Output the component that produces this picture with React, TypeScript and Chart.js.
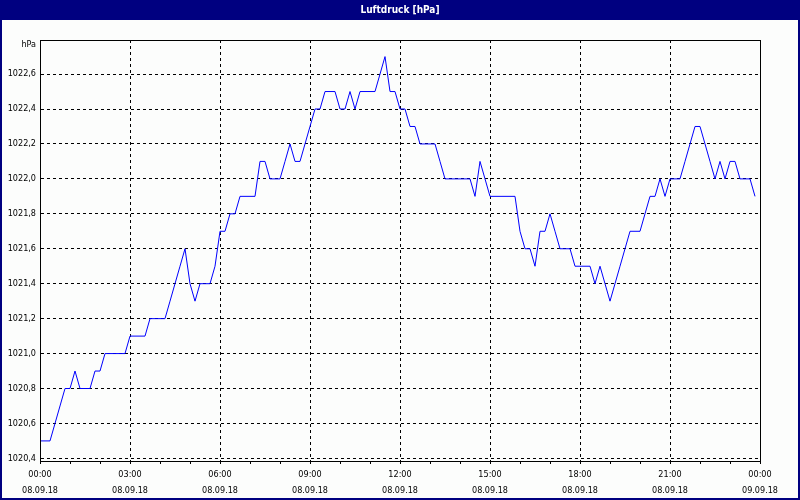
import React, { useEffect, useRef } from "react";
import { Chart, registerables } from "chart.js";

Chart.register(...registerables);

// 10-minute samples from 08.09.18 00:00 to 23:50
const pressure: number[] = [
  1020.5, 1020.5, 1020.5, 1020.6, 1020.7, 1020.8, 1020.8, 1020.9, 1020.8, 1020.8, 1020.8, 1020.9,
  1020.9, 1021.0, 1021.0, 1021.0, 1021.0, 1021.0, 1021.1, 1021.1, 1021.1, 1021.1, 1021.2, 1021.2,
  1021.2, 1021.2, 1021.3, 1021.4, 1021.5, 1021.6, 1021.4, 1021.3, 1021.4, 1021.4, 1021.4, 1021.5,
  1021.7, 1021.7, 1021.8, 1021.8, 1021.9, 1021.9, 1021.9, 1021.9, 1022.1, 1022.1, 1022.0, 1022.0,
  1022.0, 1022.1, 1022.2, 1022.1, 1022.1, 1022.2, 1022.3, 1022.4, 1022.4, 1022.5, 1022.5, 1022.5,
  1022.4, 1022.4, 1022.5, 1022.4, 1022.5, 1022.5, 1022.5, 1022.5, 1022.6, 1022.7, 1022.5, 1022.5,
  1022.4, 1022.4, 1022.3, 1022.3, 1022.2, 1022.2, 1022.2, 1022.2, 1022.1, 1022.0, 1022.0, 1022.0,
  1022.0, 1022.0, 1022.0, 1021.9, 1022.1, 1022.0, 1021.9, 1021.9, 1021.9, 1021.9, 1021.9, 1021.9,
  1021.7, 1021.6, 1021.6, 1021.5, 1021.7, 1021.7, 1021.8, 1021.7, 1021.6, 1021.6, 1021.6, 1021.5,
  1021.5, 1021.5, 1021.5, 1021.4, 1021.5, 1021.4, 1021.3, 1021.4, 1021.5, 1021.6, 1021.7, 1021.7,
  1021.7, 1021.8, 1021.9, 1021.9, 1022.0, 1021.9, 1022.0, 1022.0, 1022.0, 1022.1, 1022.2, 1022.3,
  1022.3, 1022.2, 1022.1, 1022.0, 1022.1, 1022.0, 1022.1, 1022.1, 1022.0, 1022.0, 1022.0, 1021.9,
];
const sampleMinutes = 10;

const yTicks: number[] = [1020.4, 1020.6, 1020.8, 1021.0, 1021.2, 1021.4, 1021.6, 1021.8, 1022.0, 1022.2, 1022.4, 1022.6];
const timeLabels: string[] = ["00:00", "03:00", "06:00", "09:00", "12:00", "15:00", "18:00", "21:00", "00:00"];
const dateLabels: string[] = ["08.09.18", "08.09.18", "08.09.18", "08.09.18", "08.09.18", "08.09.18", "08.09.18", "08.09.18", "09.09.18"];

const title = "Luftdruck [hPa]";
const unitLabel = "hPa";
const FONT = "'DejaVu Sans Condensed', 'Liberation Sans', sans-serif";
const NAVY = "#000080";

export default function App() {
  const ref = useRef<HTMLCanvasElement | null>(null);
  useEffect(() => {
    document.body.style.margin = "0";
    const canvas = ref.current!;
    const points = pressure.map((v, i) => ({ x: i * sampleMinutes, y: v }));

    const framePlugin = {
      id: "frame",
      beforeDraw(chart: any) {
        const c = chart.ctx;
        c.save();
        c.fillStyle = "#fcfdfc";
        c.fillRect(0, 0, chart.width, chart.height);
        c.fillStyle = NAVY;
        c.fillRect(0, 0, chart.width, 20);
        c.strokeStyle = NAVY;
        c.lineWidth = 2;
        c.strokeRect(1, 1, chart.width - 2, chart.height - 2);
        c.fillStyle = "#ffffff";
        c.font = "bold 10px " + FONT;
        c.textAlign = "center";
        c.textBaseline = "middle";
        c.fillText(title, chart.width / 2, 10);
        c.restore();
      },
      afterDraw(chart: any) {
        const c = chart.ctx;
        const a = chart.chartArea;
        c.save();
        c.strokeStyle = "#000";
        c.lineWidth = 1;
        c.strokeRect(Math.round(a.left) + 0.5, Math.round(a.top) + 0.5, Math.round(a.right - a.left), Math.round(a.bottom - a.top));
        c.fillStyle = "#000";
        c.font = "9px " + FONT;
        c.textAlign = "right";
        c.textBaseline = "middle";
        c.fillText(unitLabel, a.left - 4, a.top + 5);
        c.restore();
      },
    };

    const chart = new Chart(canvas, {
      type: "line",
      data: {
        datasets: [
          {
            data: points,
            borderColor: "#0000ff",
            borderWidth: 1,
            pointRadius: 0,
            tension: 0,
            fill: false,
          },
        ],
      },
      options: {
        responsive: false,
        animation: false,
        devicePixelRatio: 1,
        layout: { padding: { left: 0, right: 40, top: 40, bottom: 0 } },
        plugins: { legend: { display: false }, tooltip: { enabled: false }, title: { display: false } },
        scales: {
          x: {
            type: "linear",
            min: 0,
            max: 1440,
            afterBuildTicks: (scale: any) => {
              const t = [];
              for (let m = 0; m <= 1440; m += 60) t.push({ value: m });
              scale.ticks = t;
            },
            afterFit: (scale: any) => {
              scale.height = 39;
            },
            ticks: {
              autoSkip: false,
              maxRotation: 0,
              padding: 3,
              color: "#000",
              font: { family: FONT, size: 9, lineHeight: 1.75 },
              callback: (v: any) => {
                const m = Number(v);
                if (m % 180 !== 0) return "";
                const k = m / 180;
                return [timeLabels[k], dateLabels[k]];
              },
            },
            grid: {
              color: (ctx: any) => (ctx.tick && ctx.tick.value % 180 === 0 ? "#000" : "rgba(0,0,0,0)"),
              tickColor: "#000",
              tickLength: 3,
              tickBorderDash: [],
              lineWidth: 1,
            },
            border: { display: true, color: "#000", dash: [3, 3] },
          },
          y: {
            type: "linear",
            min: 1020.385,
            max: 1022.795,
            afterBuildTicks: (scale: any) => {
              scale.ticks = yTicks.map((v) => ({ value: v }));
            },
            afterFit: (scale: any) => {
              scale.width = 40;
            },
            ticks: {
              autoSkip: false,
              padding: 4,
              color: "#000",
              font: { family: FONT, size: 9 },
              callback: (v: any) => Number(v).toFixed(1).replace(".", ","),
            },
            grid: {
              color: "#000",
              drawTicks: false,
              lineWidth: 1,
            },
            border: { display: true, color: "#000", dash: [3, 3] },
          },
        },
      },
      plugins: [framePlugin],
    } as any);
    return () => chart.destroy();
  }, []);
  return <canvas ref={ref} width={800} height={500} style={{ display: "block" }} />;
}
